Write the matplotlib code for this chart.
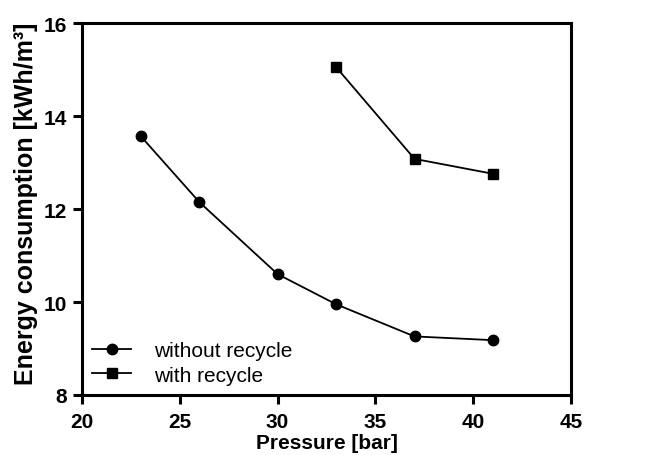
import matplotlib
matplotlib.use("Agg")
import matplotlib.pyplot as plt

plt.rcParams['font.family'] = ['Liberation Sans', 'DejaVu Sans']

p_without = [23, 26, 30, 33, 37, 41]
e_without = [13.57, 12.15, 10.60, 9.95, 9.26, 9.18]
p_with = [33, 37, 41]
e_with = [15.05, 13.08, 12.76]

fig = plt.figure(figsize=(6.53, 4.56), dpi=100)
ax = fig.add_axes([0.1256, 0.1316, 0.7488, 0.8154])

ax.plot(p_without, e_without, color='black', lw=1.3, marker='o', ms=7.5, label='without recycle')
ax.plot(p_with, e_with, color='black', lw=1.3, marker='s', ms=7.5, label='with recycle')

ax.set_xlim(20, 45)
ax.set_ylim(8, 16)
ax.set_xticks([20, 25, 30, 35, 40, 45])
ax.set_yticks([8, 10, 12, 14, 16])
for s in ax.spines.values():
    s.set_linewidth(2.2)
ax.tick_params(axis='both', direction='out', width=2.2, length=6.5, labelsize=15, pad=4)
ax.tick_params(axis='x', pad=6)
for lab in ax.get_xticklabels() + ax.get_yticklabels():
    lab.set_fontweight('bold')

ax.set_xlabel('Pressure [bar]', fontsize=15, fontweight='bold', labelpad=1)
ax.set_ylabel('Energy consumption [kWh/m\u00b3]', fontsize=18, fontweight='bold')
ax.yaxis.set_label_coords(-0.089, 0.516)

leg = ax.legend(loc='lower left', frameon=False, fontsize=15, handlelength=1.85,
                handletextpad=1.1, borderaxespad=0.3, labelspacing=0.25,
                borderpad=0.2)

fig.savefig('out.png', dpi=100)
